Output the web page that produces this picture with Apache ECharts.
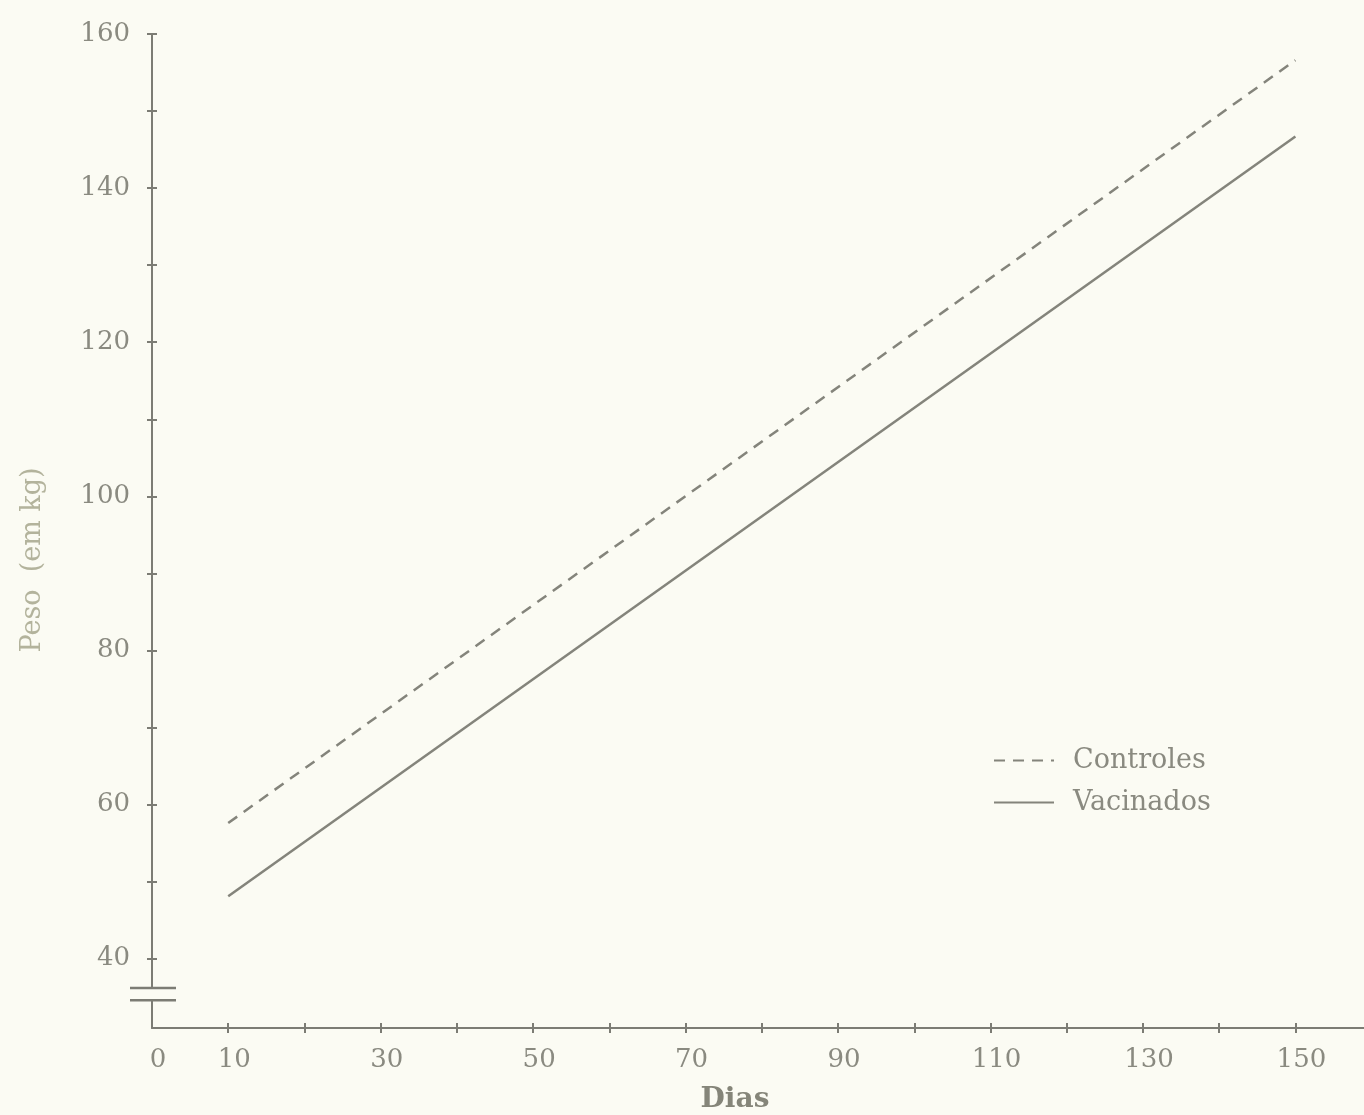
<!DOCTYPE html>
<html>
<head>
<meta charset="utf-8">
<script src="https://cdn.jsdelivr.net/npm/echarts@6/dist/echarts.min.js"></script>
<style>
html,body{margin:0;padding:0;background:#fbfbf3;}
#chart{width:1364px;height:1115px;}
</style>
</head>
<body>
<div id="chart"></div>
<script>
// ---- data ----
const seriesNames = ['Controles', 'Vacinados'];
const days = [10, 150];
const controles = [57.6, 156.6];
const vacinados = [48.1, 146.7];
const xLabels = [0, 10, 30, 50, 70, 90, 110, 130, 150];
const xTicks = [10, 20, 30, 40, 50, 60, 70, 80, 90, 100, 110, 120, 130, 140, 150];
const yLabels = [40, 60, 80, 100, 120, 140, 160];
const yTicks = [40, 50, 60, 70, 80, 90, 100, 110, 120, 130, 140, 150, 160];
const yBreak = [34.6, 36.2];

const axisColor = '#7c7c74';
const lineColor = '#84847b';
const textColor = '#8a8a80';
const font = 'DejaVu Serif';

const chart = echarts.init(document.getElementById('chart'));

const xBase = {
  type: 'value', min: 0, max: 159, position: 'bottom',
  splitLine: {show: false}
};
const yBase = {
  type: 'value', min: 31, max: 160, position: 'left',
  splitLine: {show: false}
};

chart.setOption({
  backgroundColor: '#fbfbf3',
  animation: false,
  grid: {left: 152, right: 0, top: 34, bottom: 87, containLabel: false, outerBoundsMode: 'none'},
  legend: {
    orient: 'vertical', left: 988, top: 742,
    data: seriesNames,
    itemWidth: 60, itemHeight: 14, itemGap: 15,
    itemStyle: {color: 'rgba(0,0,0,0)', borderWidth: 0, opacity: 0},
    textStyle: {fontFamily: font, fontSize: 27, color: textColor, padding: [0, 0, 0, 14]}
  },
  xAxis: [
    Object.assign({}, xBase, {
      name: 'Dias', nameLocation: 'middle', nameGap: 58,
      nameTextStyle: {fontFamily: font, fontSize: 28, fontWeight: 'bold', color: '#858579', padding: [0, 46, 0, 0]},
      axisLine: {show: true, lineStyle: {color: axisColor, width: 2}},
      axisTick: {show: true, inside: false, length: 5, lineStyle: {color: axisColor, width: 2}, customValues: xTicks},
      axisLabel: {show: true, margin: 19, fontFamily: font, fontSize: 26, color: textColor, padding: [0, 0, 0, 12], customValues: xLabels}
    }),
    Object.assign({}, xBase, {
      axisLine: {show: false},
      axisTick: {show: true, inside: true, length: 5, lineStyle: {color: axisColor, width: 2}, customValues: xTicks},
      axisLabel: {show: false}
    })
  ],
  yAxis: [
    Object.assign({}, yBase, {
      name: 'Peso  (em kg)', nameLocation: 'middle', nameGap: 106,
      nameTextStyle: {fontFamily: font, fontSize: 27, color: '#b3b39c', padding: [0, 58, 0, 0]},
      axisLine: {show: true, lineStyle: {color: axisColor, width: 2}},
      axisTick: {show: true, inside: false, length: 5, lineStyle: {color: axisColor, width: 2}, customValues: yTicks},
      axisLabel: {show: true, margin: 22, fontFamily: font, fontSize: 26, color: textColor, padding: [0, 0, 8, 0], customValues: yLabels}
    }),
    Object.assign({}, yBase, {
      axisLine: {show: false},
      axisTick: {show: true, inside: true, length: 5, lineStyle: {color: axisColor, width: 2}, customValues: yTicks},
      axisLabel: {show: false}
    })
  ],
  series: [
    {
      name: seriesNames[0], type: 'line', xAxisIndex: 0, yAxisIndex: 0,
      data: days.map((d, i) => [d, controles[i]]),
      symbol: 'none', showSymbol: false,
      lineStyle: {color: lineColor, width: 2.5, type: [11, 8]},
      itemStyle: {color: lineColor}
    },
    {
      name: seriesNames[1], type: 'line', xAxisIndex: 0, yAxisIndex: 0,
      data: days.map((d, i) => [d, vacinados[i]]),
      symbol: 'none', showSymbol: false,
      lineStyle: {color: lineColor, width: 2.5, type: 'solid'},
      itemStyle: {color: lineColor}
    }
  ]
});

// axis break decoration (two short bars across the y axis)
const pLow = chart.convertToPixel({xAxisIndex: 0, yAxisIndex: 0}, [0, yBreak[0]]);
const pHigh = chart.convertToPixel({xAxisIndex: 0, yAxisIndex: 0}, [0, yBreak[1]]);
const ax = pLow[0];
chart.setOption({
  graphic: [
    {type: 'rect', z: 100, shape: {x: ax - 5, y: pHigh[1], width: 10, height: pLow[1] - pHigh[1]}, style: {fill: '#fbfbf3'}},
    {type: 'line', z: 101, shape: {x1: ax - 22, y1: pHigh[1], x2: ax + 24, y2: pHigh[1]}, style: {stroke: axisColor, lineWidth: 2.5}},
    {type: 'line', z: 101, shape: {x1: ax - 22, y1: pLow[1], x2: ax + 24, y2: pLow[1]}, style: {stroke: axisColor, lineWidth: 2.5}}
  ]
});
</script>
</body>
</html>
